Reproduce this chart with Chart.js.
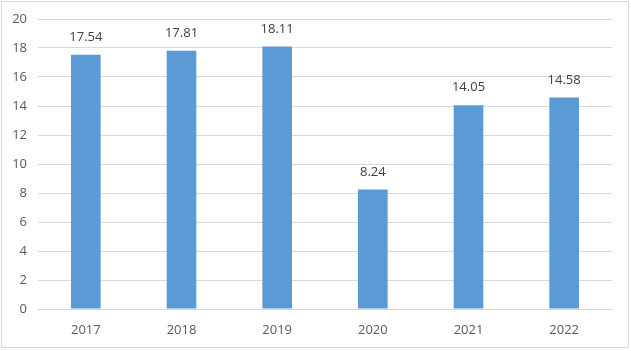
<!DOCTYPE html>
<html>
<head>
<meta charset="utf-8">
<script src="https://cdn.jsdelivr.net/npm/chart.js@4.4.0/dist/chart.umd.min.js"></script>
<style>
  html, body { margin: 0; padding: 0; background: #fff; }
  #wrap { width: 631px; height: 351px; position: relative; }
</style>
</head>
<body>
<div id="wrap"><canvas id="barChart" width="631" height="351"></canvas></div>
<script>
// data
const years = ['2017', '2018', '2019', '2020', '2021', '2022'];
const values = [17.54, 17.81, 18.11, 8.24, 14.05, 14.58];
const yTicks = [0, 2, 4, 6, 8, 10, 12, 14, 16, 18, 20];

const barColor = '#5b9bd5';
const textColor = '#595959';

// labels above bars
const valueLabels = {
    id: 'valueLabels',
    afterDatasetsDraw(chart) {
        const ctx = chart.ctx;
        const meta = chart.getDatasetMeta(0);
        ctx.save();
        ctx.font = '13px "Open Sans", sans-serif';
        ctx.fillStyle = '#404040';
        ctx.textAlign = 'center';
        ctx.textBaseline = 'bottom';
        meta.data.forEach((bar, i) => {
            ctx.fillText(values[i].toFixed(2), bar.x, bar.y - 11);
        });
        ctx.restore();
    }
};

// thin frame round the chart
const frame = {
    id: 'frame',
    beforeDraw(chart) {
        const ctx = chart.ctx;
        ctx.save();
        ctx.strokeStyle = '#d9d9d9';
        ctx.lineWidth = 1;
        ctx.strokeRect(1.5, 1.5, 627, 346);
        ctx.restore();
    }
};

new Chart(document.getElementById('barChart').getContext('2d'), {
    type: 'bar',
    data: {
        labels: years,
        datasets: [{
            data: values,
            backgroundColor: barColor,
            borderWidth: 0,
            categoryPercentage: 1,
            barPercentage: 0.31
        }]
    },
    options: {
        responsive: false,
        animation: false,
        layout: { padding: { top: 19, right: 19, bottom: 0, left: 0 } },
        plugins: { legend: { display: false }, tooltip: { enabled: false } },
        scales: {
            x: {
                grid: { display: false },
                border: { color: '#d9d9d9' },
                ticks: { color: textColor, font: { size: 13, family: '"Open Sans", sans-serif' }, padding: 5 },
                afterFit(scale) { scale.height = 42; }
            },
            y: {
                min: 0,
                max: 20,
                afterBuildTicks(scale) { scale.ticks = yTicks.map(v => ({ value: v })); },
                grid: { color: '#d9d9d9', drawTicks: false },
                border: { display: false },
                ticks: { color: textColor, font: { size: 13, family: '"Open Sans", sans-serif' }, padding: 11 },
                afterFit(scale) { scale.width = 38; }
            }
        }
    },
    plugins: [valueLabels, frame]
});
</script>
</body>
</html>
